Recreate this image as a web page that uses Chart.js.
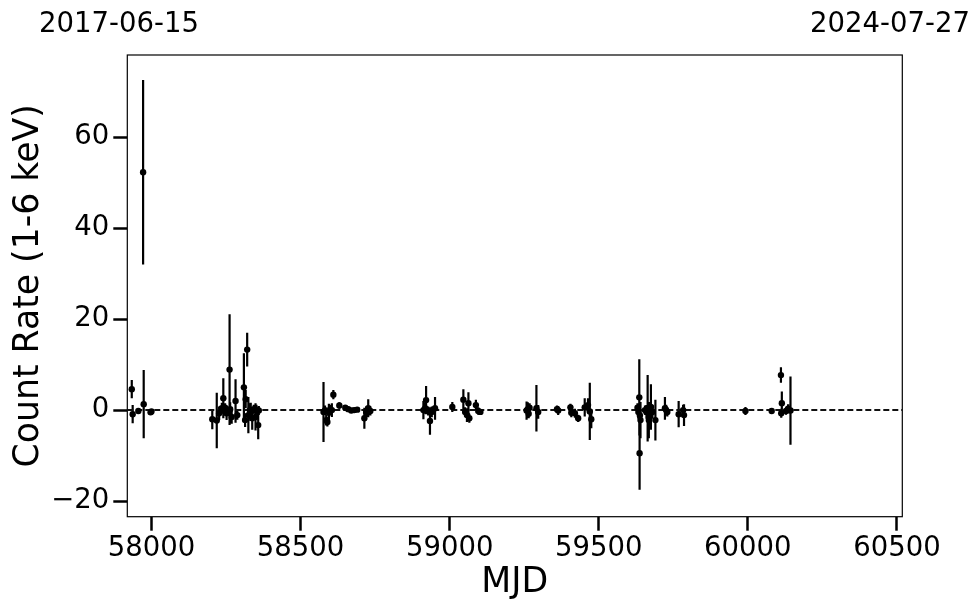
<!DOCTYPE html>
<html>
<head>
<meta charset="utf-8">
<script src="https://cdn.jsdelivr.net/npm/chart.js@4"></script>
<style>
  html, body { margin: 0; padding: 0; background: #fff; }
  canvas { display: block; }
</style>
</head>
<body>
<canvas id="lcChart" width="980" height="613"></canvas>
<script>
// light curve: MJD, count rate (1-6 keV) and 1-sigma error
const mjd = [
  57934, 57937, 57956, 57972, 57974, 57997, 58000,
  58204, 58219, 58227, 58236, 58241, 58247, 58252, 58258, 58262, 58264, 58269,
  58282, 58288, 58310, 58314, 58316, 58321, 58325, 58330, 58333, 58338, 58343,
  58349, 58352, 58358, 58360,
  58577, 58582, 58586, 58590, 58595, 58600, 58605, 58610, 58630, 58650, 58660,
  58670, 58680, 58690, 58714, 58720, 58727, 58734,
  58912, 58918, 58921, 58928, 58934, 58940, 58951, 59009, 59046, 59052, 59058,
  59063, 59066, 59088, 59096, 59103,
  59258, 59262, 59265, 59268, 59291, 59297, 59360, 59364, 59405, 59408, 59420,
  59431, 59453, 59464, 59470, 59475,
  59630, 59633, 59636, 59637, 59638, 59640, 59655, 59660, 59664, 59668, 59672,
  59675, 59680, 59690, 59722, 59726, 59730, 59768, 59783, 59786,
  59992, 60080, 60111, 60112, 60114, 60128, 60135, 60143
];
const rate = [
  4.6, -0.9, -0.2, 52.3, 1.3, -0.5, -0.3,
  -2.0, -2.3, -0.7, 0.4, 2.6, 0.5, -0.7, -0.3, 8.9, 0.2, -1.5,
  2.0, -1.1, 5.0, -2.2, 2.4, 13.3, -1.1, 0.0, -0.4, -1.8, 0.2,
  -1.5, 0.0, -3.3, -0.1,
  -0.4, 0.0, -2.2, -2.6, -0.6, 0.2, 0.0, 3.4, 1.0, 0.5, 0.2,
  -0.1, 0.0, 0.1, -1.8, -0.4, 0.4, -0.2,
  0.0, 0.4, 2.2, -0.2, -2.4, -0.4, 0.4, 0.7, 2.3, -0.4, -1.1,
  1.5, -1.8, 1.1, -0.2, -0.4,
  -0.1, 0.2, -0.8, 0.5, 0.4, -0.4, 0.2, -0.1, 0.6, -0.6, -0.7,
  -1.8, 0.6, 1.1, -0.3, -2.0,
  0.5, -0.4, 2.8, -9.5, -1.2, -2.2, 0.0, -0.4, 0.4, -2.2, -1.1,
  0.7, -0.4, -2.2, 0.4, 0.0, -0.4, -0.9, 0.0, -1.1,
  -0.2, -0.2, 7.7, -0.7, 1.5, -0.2, 0.3, -0.1
];
const rateErr = [
  2.0, 2.0, 0.5, 20.3, 7.5, 0.6, 0.5,
  2.2, 6.1, 1.5, 1.2, 4.4, 1.0, 1.5, 1.0, 12.2, 1.5, 1.5,
  4.8, 1.0, 7.5, 1.5, 2.0, 3.7, 4.0, 1.5, 2.0, 2.5, 1.0,
  3.0, 1.2, 3.1, 1.0,
  6.6, 1.0, 1.2, 1.0, 2.0, 1.0, 1.5, 1.0, 0.7, 0.6, 0.6,
  0.5, 0.5, 0.5, 2.3, 1.2, 2.0, 1.0,
  2.0, 1.2, 3.1, 1.0, 3.0, 1.2, 2.5, 1.1, 2.3, 1.0, 1.5,
  2.4, 1.0, 1.2, 0.8, 0.6,
  2.0, 1.5, 1.0, 1.0, 5.1, 1.5, 0.8, 1.0, 0.8, 1.0, 1.0,
  0.8, 2.0, 1.5, 6.3, 2.0,
  1.0, 1.5, 8.4, 8.0, 2.0, 4.0, 1.0, 1.5, 7.3, 4.0, 1.5,
  5.0, 1.5, 4.5, 2.5, 1.2, 1.0, 2.9, 1.2, 2.4,
  0.9, 0.4, 1.7, 1.0, 2.6, 0.8, 1.0, 7.5
];

const xTicks = [58000, 58500, 59000, 59500, 60000, 60500];
const yTicks = [-20, 0, 20, 40, 60];
const xRange = [57919, 60518];
const yRange = [-23.45, 78.1];
const dateLabels = ['2017-06-15', '2024-07-27'];

const FONT = "'DejaVu Sans', sans-serif";

const fmtTick = v => (v < 0 ? '\u2212' + Math.abs(v) : String(v));

// vertical error bars from the scales
const errorBars = {
  id: 'errorBars',
  beforeDatasetsDraw(chart) {
    const { ctx, chartArea, scales: { x, y } } = chart;
    ctx.save();
    ctx.beginPath();
    ctx.rect(chartArea.left, chartArea.top, chartArea.right - chartArea.left, chartArea.bottom - chartArea.top);
    ctx.clip();
    ctx.strokeStyle = '#000';
    ctx.lineWidth = 2.2;
    ctx.beginPath();
    mjd.forEach((m, i) => {
      const px = x.getPixelForValue(m);
      ctx.moveTo(px, y.getPixelForValue(rate[i] - rateErr[i]));
      ctx.lineTo(px, y.getPixelForValue(rate[i] + rateErr[i]));
    });
    ctx.stroke();
    ctx.restore();
  }
};

const frameAndDates = {
  id: 'frameAndDates',
  beforeDraw(chart) {
    const { ctx } = chart;
    ctx.save();
    ctx.fillStyle = '#fff';
    ctx.fillRect(0, 0, chart.width, chart.height);
    ctx.restore();
  },
  afterDraw(chart) {
    const { ctx, chartArea } = chart;
    ctx.save();
    ctx.strokeStyle = '#000';
    ctx.lineWidth = 1.2;
    ctx.strokeRect(chartArea.left, chartArea.top, chartArea.right - chartArea.left, chartArea.bottom - chartArea.top);

    ctx.fillStyle = '#000';
    ctx.font = '27.5px ' + FONT;
    ctx.textAlign = 'center';
    ctx.textBaseline = 'alphabetic';
    ctx.fillText(dateLabels[0], 119, 32);
    ctx.fillText(dateLabels[1], 890, 32);
    ctx.restore();
  }
};

const ctx = document.getElementById('lcChart').getContext('2d');

new Chart(ctx, {
  type: 'scatter',
  data: {
    datasets: [
      {
        label: 'rate',
        data: mjd.map((m, i) => ({ x: m, y: rate[i] })),
        pointRadius: 3.2,
        pointBackgroundColor: '#000',
        pointBorderWidth: 0,
        order: 1
      },
      {
        label: 'zero',
        type: 'line',
        data: [{ x: xRange[0], y: 0 }, { x: xRange[1], y: 0 }],
        borderColor: '#111',
        borderWidth: 2,
        borderDash: [6, 3],
        pointRadius: 0,
        fill: false,
        order: 2
      }
    ]
  },
  options: {
    responsive: false,
    animation: false,
    devicePixelRatio: 1,
    layout: { padding: { top: 55, right: 77.7, left: 0, bottom: 0 } },
    plugins: {
      legend: { display: false },
      tooltip: { enabled: false }
    },
    scales: {
      x: {
        type: 'linear',
        min: xRange[0],
        max: xRange[1],
        afterBuildTicks: axis => { axis.ticks = xTicks.map(v => ({ value: v })); },
        afterFit: axis => { axis.height = 96.3; },
        border: { display: false },
        grid: {
          drawOnChartArea: false,
          drawTicks: true,
          tickLength: 14,
          tickWidth: 2.5,
          tickColor: '#000'
        },
        ticks: {
          color: '#000',
          font: { family: FONT, size: 27.5 },
          padding: 2,
          maxRotation: 0,
          callback: fmtTick
        },
        title: {
          display: true,
          text: 'MJD',
          color: '#000',
          font: { family: FONT, size: 34.7 },
          padding: { top: 0, bottom: 9 }
        }
      },
      y: {
        type: 'linear',
        min: yRange[0],
        max: yRange[1],
        afterBuildTicks: axis => { axis.ticks = yTicks.map(v => ({ value: v })); },
        afterFit: axis => { axis.width = 127.3; },
        border: { display: false },
        grid: {
          drawOnChartArea: false,
          drawTicks: true,
          tickLength: 14,
          tickWidth: 2.5,
          tickColor: '#000'
        },
        ticks: {
          color: '#000',
          font: { family: FONT, size: 27.5 },
          padding: 4,
          callback: fmtTick
        },
        title: {
          display: true,
          text: 'Count Rate (1-6 keV)',
          color: '#000',
          font: { family: FONT, size: 34.7 },
          padding: { top: 8, bottom: 0 }
        }
      }
    }
  },
  plugins: [errorBars, frameAndDates]
});
</script>
</body>
</html>
